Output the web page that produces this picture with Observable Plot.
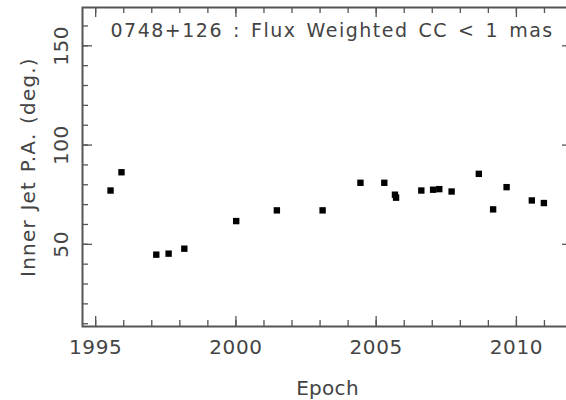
<!DOCTYPE html>
<html>
<head>
<meta charset="utf-8">
<script src="https://cdn.jsdelivr.net/npm/d3@7"></script>
<script src="https://cdn.jsdelivr.net/npm/@observablehq/plot@0.6"></script>
<style>
  html, body { margin: 0; padding: 0; background: #fff; overflow: hidden; }
  svg text { font-family: "DejaVu Sans", sans-serif; }
</style>
</head>
<body>
<div id="chart"></div>
<script>
// Data
const epochs = [1995.53, 1995.92, 1997.16, 1997.60, 1998.16, 2000.01, 2001.46, 2003.09, 2004.44, 2005.29, 2005.67, 2005.71, 2006.61, 2007.03, 2007.25, 2007.69, 2008.66, 2009.17, 2009.65, 2010.55, 2010.98];
const innerJetPA = [77.1, 86.3, 44.8, 45.3, 47.8, 61.7, 67.1, 67.1, 81.0, 81.0, 75.0, 73.5, 77.1, 77.5, 77.8, 76.6, 85.5, 67.6, 78.8, 72.1, 70.8];

const xMajorTicks = [1995, 2000, 2005, 2010];
const xMinorTicks = [1995, 1996, 1997, 1998, 1999, 2000, 2001, 2002, 2003, 2004, 2005, 2006, 2007, 2008, 2009, 2010, 2011, 2012];
const yMajorTicks = [50, 100, 150];
const yMinorTicks = [10, 20, 30, 40, 50, 60, 70, 80, 90, 100, 110, 120, 130, 140, 150, 160];

const titleText = "0748+126 : Flux Weighted CC < 1 mas";
const xLabel = "Epoch";
const yLabel = "Inner Jet P.A. (deg.)";

const points = epochs.map((e, i) => ({epoch: e, pa: innerJetPA[i]}));

const W = 566, H = 400;
const mL = 82, mR = -6, mT = 7, mB = 74;
const innerH = H - mT - mB;
const innerW = W - mL - mR;
const majorLen = 10, minorLen = 6;
const axisColor = "#555";
const textColor = "#444";

const chart = Plot.plot({
  width: W,
  height: H,
  marginLeft: mL,
  marginRight: mR,
  marginTop: mT,
  marginBottom: mB,
  x: {domain: [1994.53, 2012.0], axis: null},
  y: {domain: [8.6, 169.3], axis: null},
  style: {background: "#fff", fontFamily: "DejaVu Sans, sans-serif"},
  marks: [
    // bottom & top ticks
    Plot.tickX(xMinorTicks, {x: d => d, insetTop: innerH - minorLen, stroke: axisColor, strokeWidth: 1.3}),
    Plot.tickX(xMajorTicks, {x: d => d, insetTop: innerH - majorLen, stroke: axisColor, strokeWidth: 1.3}),
    Plot.tickX(xMinorTicks, {x: d => d, insetBottom: innerH - minorLen, stroke: axisColor, strokeWidth: 1.3}),
    Plot.tickX(xMajorTicks, {x: d => d, insetBottom: innerH - majorLen, stroke: axisColor, strokeWidth: 1.3}),
    // left & right ticks
    Plot.tickY(yMinorTicks, {y: d => d, insetRight: innerW - minorLen, stroke: axisColor, strokeWidth: 1.3}),
    Plot.tickY(yMajorTicks, {y: d => d, insetRight: innerW - majorLen, stroke: axisColor, strokeWidth: 1.3}),
    Plot.tickY(yMinorTicks, {y: d => d, insetLeft: innerW - minorLen, stroke: axisColor, strokeWidth: 1.3}),
    Plot.tickY(yMajorTicks, {y: d => d, insetLeft: innerW - majorLen, stroke: axisColor, strokeWidth: 1.3}),
    Plot.frame({stroke: axisColor, strokeWidth: 2}),
    // tick labels
    Plot.text(xMajorTicks, {x: d => d, text: d => String(d), frameAnchor: "bottom", lineAnchor: "middle", dy: 21, fontSize: 20, fill: textColor}),
    Plot.text(yMajorTicks, {y: d => d, text: d => String(d), frameAnchor: "left", rotate: -90, textAnchor: "middle", lineAnchor: "middle", dx: -21, fontSize: 20, fill: textColor}),
    // axis labels
    Plot.text([xLabel], {text: d => d, frameAnchor: "bottom", lineAnchor: "middle", dy: 62, fontSize: 20, fill: textColor}),
    Plot.text([yLabel], {text: d => d, frameAnchor: "left", rotate: -90, textAnchor: "middle", lineAnchor: "middle", dx: -53.5, fontSize: 20, fill: textColor}),
    // title inside plot
    Plot.text([titleText], {text: d => d, frameAnchor: "top-left", textAnchor: "start", lineAnchor: "middle", dx: 28, dy: 23.5, fontSize: 19, fill: textColor}),
    // data points
    Plot.dot(points, {x: "epoch", y: "pa", symbol: "square", r: 3.6, fill: "#000", stroke: "none"})
  ]
});

// letter spacing to mimic the wide plotting font
const spacing = new Map([
  [titleText, {ls: "1.5px", ws: "2.5px"}],
  [yLabel, {ls: "1.2px", ws: "1px"}],
  [xLabel, {ls: "0.3px", ws: "0px"}]
]);
d3.select(chart).selectAll("text").each(function() {
  const t = this.textContent;
  const s = spacing.get(t);
  if (s) {
    this.setAttribute("letter-spacing", s.ls);
    this.setAttribute("word-spacing", s.ws);
  } else if (/^\d+$/.test(t)) {
    this.setAttribute("letter-spacing", "0.6px");
  }
});

document.getElementById("chart").appendChild(chart);
</script>
</body>
</html>
